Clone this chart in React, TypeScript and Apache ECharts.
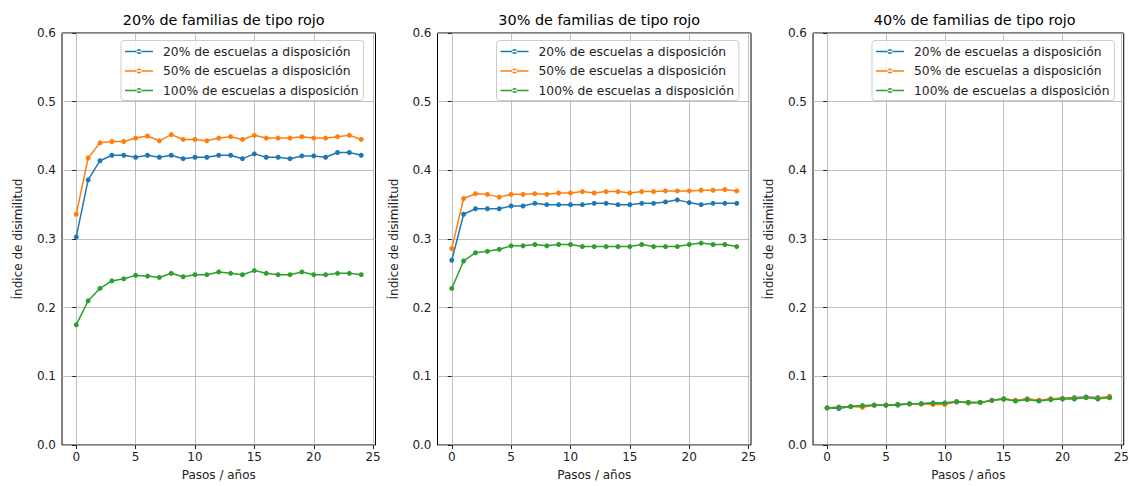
import React, { useEffect, useRef } from "react";
import * as echarts from "echarts";

const steps = Array.from({ length: 25 }, (_, i) => i);
const seriesNames = [
  "20% de escuelas a disposición",
  "50% de escuelas a disposición",
  "100% de escuelas a disposición",
];
const panelTitles = [
  "20% de familias de tipo rojo",
  "30% de familias de tipo rojo",
  "40% de familias de tipo rojo",
];
const xTicks = [0, 5, 10, 15, 20, 25];
const yTicks = [0, 0.1, 0.2, 0.3, 0.4, 0.5, 0.6];

const p1Blue = [0.303, 0.386, 0.414, 0.422, 0.422, 0.419, 0.422, 0.419, 0.422, 0.417, 0.419, 0.419, 0.422, 0.422, 0.417, 0.424, 0.419, 0.419, 0.417, 0.421, 0.421, 0.419, 0.426, 0.426, 0.422];
const p1Orange = [0.336, 0.418, 0.44, 0.442, 0.442, 0.447, 0.45, 0.443, 0.452, 0.445, 0.445, 0.443, 0.447, 0.449, 0.445, 0.451, 0.447, 0.447, 0.447, 0.449, 0.447, 0.447, 0.449, 0.451, 0.445];
const p1Green = [0.175, 0.21, 0.228, 0.239, 0.242, 0.247, 0.246, 0.244, 0.25, 0.245, 0.248, 0.248, 0.252, 0.25, 0.248, 0.254, 0.25, 0.248, 0.248, 0.252, 0.248, 0.248, 0.25, 0.25, 0.248];

const p2Blue = [0.269, 0.336, 0.344, 0.344, 0.344, 0.348, 0.348, 0.352, 0.35, 0.35, 0.35, 0.35, 0.352, 0.352, 0.35, 0.35, 0.352, 0.352, 0.354, 0.357, 0.353, 0.35, 0.352, 0.352, 0.352];
const p2Orange = [0.286, 0.359, 0.366, 0.365, 0.361, 0.365, 0.365, 0.366, 0.365, 0.367, 0.367, 0.369, 0.367, 0.369, 0.369, 0.367, 0.369, 0.369, 0.37, 0.37, 0.37, 0.371, 0.371, 0.372, 0.37];
const p2Green = [0.228, 0.268, 0.28, 0.282, 0.285, 0.29, 0.29, 0.292, 0.29, 0.292, 0.292, 0.289, 0.289, 0.289, 0.289, 0.289, 0.292, 0.289, 0.289, 0.289, 0.292, 0.294, 0.292, 0.292, 0.289];

const p3Blue = [0.054, 0.053, 0.056, 0.057, 0.058, 0.058, 0.058, 0.06, 0.06, 0.061, 0.061, 0.063, 0.062, 0.062, 0.065, 0.067, 0.065, 0.067, 0.065, 0.067, 0.068, 0.069, 0.07, 0.069, 0.069];
const p3Orange = [0.054, 0.055, 0.056, 0.055, 0.058, 0.058, 0.059, 0.06, 0.06, 0.059, 0.059, 0.063, 0.061, 0.062, 0.065, 0.067, 0.065, 0.067, 0.065, 0.067, 0.068, 0.068, 0.069, 0.068, 0.071];
const p3Green = [0.054, 0.055, 0.056, 0.057, 0.058, 0.058, 0.059, 0.06, 0.06, 0.061, 0.061, 0.063, 0.062, 0.062, 0.065, 0.067, 0.064, 0.066, 0.064, 0.066, 0.067, 0.067, 0.069, 0.067, 0.069];

const panels = [
  [p1Blue, p1Orange, p1Green],
  [p2Blue, p2Orange, p2Green],
  [p3Blue, p3Orange, p3Green],
];
const colors = ["#1f77b4", "#ff7f0e", "#2ca02c"];

export default function App() {
  const ref = useRef<HTMLDivElement>(null);
  useEffect(() => {
    if (!ref.current) return;
    const chart = echarts.init(ref.current, null, { renderer: "svg" });
    const font = "DejaVu Sans";
    const lefts = [62, 437.5, 813];
    const plotW = 313.5;
    const grids = lefts.map((l) => ({
      left: l,
      top: 33,
      width: plotW,
      height: 415,
      show: true,
      borderColor: "#000",
      borderWidth: 1,
      backgroundColor: "transparent",
    }));
    const xAxes = lefts.map((_, i) => ({
      type: "value",
      gridIndex: i,
      min: -1.2,
      max: 25.2,
      name: "Pasos / años",
      nameLocation: "middle",
      nameGap: 24,
      nameTextStyle: { fontFamily: font, fontSize: 12, color: "#222" },
      axisLine: { show: false },
      axisTick: { show: true, length: 4, lineStyle: { color: "#222" }, customValues: xTicks },
      axisLabel: { fontFamily: font, fontSize: 12, color: "#222", margin: 6, customValues: xTicks, formatter: (v: number) => String(v) },
      splitLine: { show: true, lineStyle: { color: "#b0b0b0", width: 0.8 } },
    }));
    const yAxes = lefts.map((_, i) => ({
      type: "value",
      gridIndex: i,
      min: yTicks[0],
      max: yTicks[yTicks.length - 1],
      interval: 0.1,
      name: "Índice de disimilitud",
      nameLocation: "middle",
      nameGap: 38,
      nameTextStyle: { fontFamily: font, fontSize: 12, color: "#222" },
      axisLine: { show: false },
      axisTick: { show: true, length: 4, lineStyle: { color: "#222" } },
      axisLabel: { fontFamily: font, fontSize: 12, color: "#222", margin: 6, formatter: (v: number) => v.toFixed(1) },
      splitLine: { show: true, lineStyle: { color: "#b0b0b0", width: 0.8 } },
    }));
    const series: any[] = [];
    panels.forEach((p, i) => {
      p.forEach((vals, j) => {
        series.push({
          type: "line",
          name: seriesNames[j],
          xAxisIndex: i,
          yAxisIndex: i,
          data: steps.map((s, k) => [s, vals[k]]),
          color: colors[j],
          symbol: "circle",
          symbolSize: 5,
          showSymbol: true,
          lineStyle: { width: 1.5, color: colors[j] },
          itemStyle: { color: colors[j] },
          z: 3 + j,
        });
      });
    });
    const titles = lefts.map((l, i) => ({
      text: panelTitles[i],
      left: l + plotW / 2,
      top: 8,
      textAlign: "center",
      textStyle: { fontFamily: font, fontSize: 14.4, fontWeight: "normal", color: "#000" },
    }));
    const legends = lefts.map((l) => ({
      data: seriesNames,
      left: l + 59,
      top: 40.5,
      orient: "vertical",
      icon: "path://M0,2.25h28v1.5H0z M11.5,3a2.5,2.5 0 1,0 5,0a2.5,2.5 0 1,0 -5,0z",
      itemWidth: 28,
      itemHeight: 6,
      itemGap: 5.5,
      padding: [4, 5, 3, 4],
      borderColor: "#cccccc",
      borderWidth: 1,
      borderRadius: 3,
      backgroundColor: "rgba(255,255,255,0.8)",
      selectedMode: false,
      textStyle: { fontFamily: font, fontSize: 12.3, color: "#222", lineHeight: 14, padding: [0, 0, 0, 5] },
    }));
    chart.setOption({
      animation: false,
      backgroundColor: "#fff",
      title: titles,
      legend: legends,
      grid: grids,
      xAxis: xAxes,
      yAxis: yAxes,
      series,
    });
    return () => chart.dispose();
  }, []);
  return (
    <div
      ref={ref}
      style={{ position: "absolute", left: 0, top: 0, width: 1132, height: 486 }}
    />
  );
}
